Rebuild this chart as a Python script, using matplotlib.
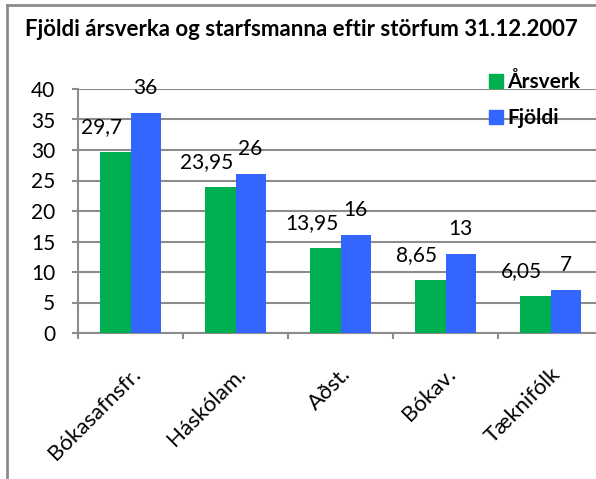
import matplotlib
matplotlib.use("Agg")
import matplotlib.pyplot as plt
from matplotlib.lines import Line2D
import numpy as np

categories = ["Bókasafnsfr.", "Háskólam.", "Aðst.", "Bókav.", "Tæknifólk"]
arsverk = [29.7, 23.95, 13.95, 8.65, 6.05]
fjoldi = [36, 26, 16, 13, 7]
arsverk_labels = ["29,7", "23,95", "13,95", "8,65", "6,05"]
fjoldi_labels = ["36", "26", "16", "13", "7"]

GREEN = "#00B050"
BLUE = "#3366FF"
GRID = "#8c8c8c"
W, H = 596, 479

plt.rcParams["font.family"] = ["Lato", "DejaVu Sans"]

fig = plt.figure(figsize=(W / 100, H / 100), dpi=100)
ax = fig.add_axes([78 / W, 1 - 333 / H, 525 / W, 244 / H])

x = np.arange(len(categories))
bw = 0.286
ax.bar(x - bw / 2, arsverk, bw, color=GREEN, zorder=3)
ax.bar(x + bw / 2, fjoldi, bw, color=BLUE, zorder=3)

for xi, v, lab in zip(x, arsverk, arsverk_labels):
    ax.annotate(lab, (xi - bw / 2, v), xytext=(-10, 18), textcoords="offset points",
                ha="center", va="center", fontsize=15)
for xi, v, lab in zip(x, fjoldi, fjoldi_labels):
    ax.annotate(lab, (xi + bw / 2, v), xytext=(0, 18), textcoords="offset points",
                ha="center", va="center", fontsize=15)

ax.set_xlim(-0.5, len(categories) - 0.5)
ax.set_ylim(0, 40)
ax.set_yticks(range(0, 41, 5))
ax.yaxis.grid(True, color=GRID, linewidth=1.5, zorder=0)
ax.set_axisbelow(True)

for s in ["top", "right"]:
    ax.spines[s].set_visible(False)
for s in ["left", "bottom"]:
    ax.spines[s].set_color(GRID)
    ax.spines[s].set_linewidth(1.5)

ax.tick_params(axis="y", length=4.5, width=1.5, color=GRID, pad=12, labelsize=15)
ax.set_xticks(x)
ax.set_xticklabels(categories, rotation=45, ha="right", rotation_mode="anchor", fontsize=16)
ax.tick_params(axis="x", which="major", length=0, pad=22)
ax.set_xticks(np.arange(-0.5, len(categories), 1), minor=True)
ax.tick_params(axis="x", which="minor", length=4.5, width=1.5, color=GRID)

fig.text(301 / W, 1 - 30 / H, "Fjöldi ársverka og starfsmanna eftir störfum 31.12.2007",
         ha="center", va="center", fontsize=16, fontweight="bold")

handles = [Line2D([], [], marker="s", linestyle="none", markersize=10, color=GREEN),
           Line2D([], [], marker="s", linestyle="none", markersize=10, color=BLUE)]
leg = fig.legend(handles, ["Årsverk", "Fjöldi"], loc="upper left",
                 bbox_to_anchor=(479 / W, 1 - 64 / H), frameon=False,
                 prop={"size": 15, "weight": "bold"}, labelspacing=0.75,
                 handletextpad=0.15, handlelength=0.8, borderaxespad=0)

# outer chart frame
fig.add_artist(Line2D([7 / W, 7 / W], [0, 1 - 5 / H], color=GRID, linewidth=2,
                      transform=fig.transFigure))
fig.add_artist(Line2D([7 / W, 1], [1 - 5 / H, 1 - 5 / H], color=GRID, linewidth=2,
                      transform=fig.transFigure))

fig.savefig("out.png", dpi=100)
